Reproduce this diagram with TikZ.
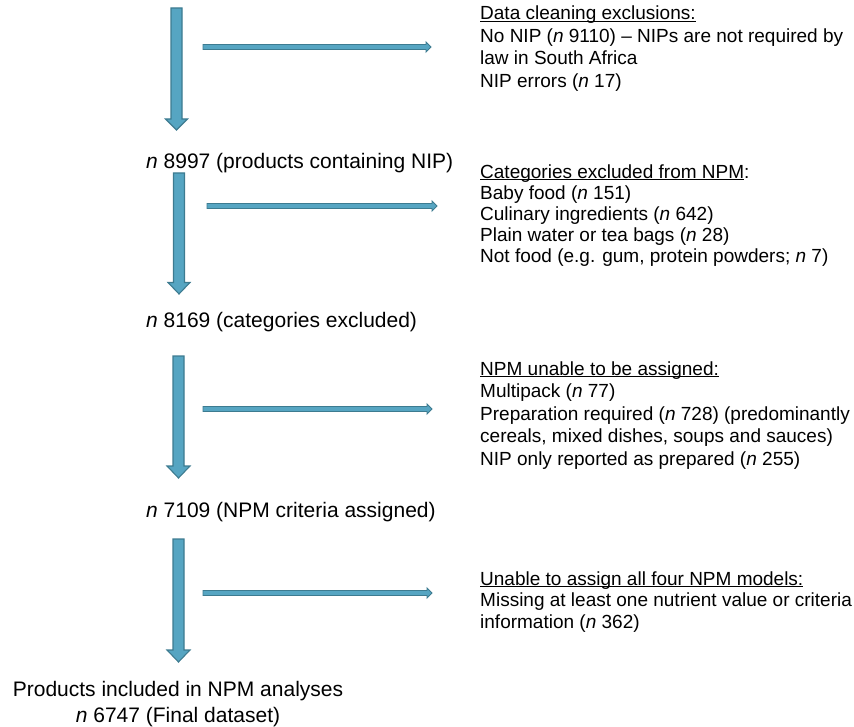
\documentclass[tikz,border=0pt]{standalone}
\usepackage{fontspec}
\setmainfont{Liberation Sans}
\definecolor{arrfill}{HTML}{56A5C2}
\definecolor{arrline}{HTML}{3D7B90}
\newcommand\myul[1]{\underline{\smash{#1}}}
\tikzset{
  blockarr/.style={fill=arrfill,draw=arrline,line width=1.1pt,line join=miter},
  lefttxt/.style={inner sep=0pt,font=\fontsize{21}{26}\selectfont},
  righttxt/.style={inner sep=0pt,anchor=north west,align=left},
}
% vertical block arrow: x, ytop, ybottom, shaft half width, head half width, head length
\newcommand\downblock[6]{%
  \draw[blockarr] ({#1-#4},#2) -- ({#1+#4},#2) -- ({#1+#4},{#3-#6}) -- ({#1+#5},{#3-#6})
    -- (#1,#3) -- ({#1-#5},{#3-#6}) -- ({#1-#4},{#3-#6}) -- cycle;}
% horizontal block arrow: y, xleft, xright, shaft half, head half, head length
\newcommand\rightblock[6]{%
  \draw[blockarr,line width=0.9pt] (#2,{#1-#4}) -- ({#3-#6},{#1-#4}) -- ({#3-#6},{#1-#5}) -- (#3,#1)
    -- ({#3-#6},{#1+#5}) -- ({#3-#6},{#1+#4}) -- (#2,{#1+#4}) -- cycle;}
\begin{document}
\begin{tikzpicture}[x=1pt,y=-1pt]
\useasboundingbox (0,0) rectangle (854,727);

% left column texts
\node[lefttxt,anchor=base west] (n8997) at (146,169) {\textit{n} 8997 (products containing NIP)};
\node[lefttxt,anchor=base west] (n8169) at (146,327) {\textit{n} 8169 (categories excluded)};
\node[lefttxt,anchor=base west] (n7109) at (146,517) {\textit{n} 7109 (NPM criteria assigned)};
\node[lefttxt,anchor=north,align=center] (final) at (178,677.8)
  {\strut Products included in NPM analyses\\ \textit{n} 6747 (Final dataset)};

% right column texts
\node[righttxt,font=\fontsize{19}{22.5}\selectfont] (ex1) at (480,3.75)
  {\strut\myul{Data cleaning exclusions:}\\
   No NIP (\textit{n} 9110) -- NIPs are not required by\\
   law in South Africa\\
   NIP errors (\textit{n} 17)};
\node[righttxt,font=\fontsize{19}{21}\selectfont] (ex2) at (480,163.3)
  {\strut\myul{Categories excluded from NPM}:\\
   Baby food (\textit{n} 151)\\
   Culinary ingredients (\textit{n} 642)\\
   Plain water or tea bags (\textit{n} 28)\\
   Not food (e.g. gum, protein powders; \textit{n} 7)};
\node[righttxt,font=\fontsize{19}{22.5}\selectfont] (ex3) at (480,359.25)
  {\strut\myul{NPM unable to be assigned:}\\
   Multipack (\textit{n} 77)\\
   Preparation required (\textit{n} 728) (predominantly\\
   cereals, mixed dishes, soups and sauces)\\
   NIP only reported as prepared (\textit{n} 255)};
\node[righttxt,font=\fontsize{19}{21.5}\selectfont] (ex4) at (480,569.95)
  {\strut\myul{Unable to assign all four NPM models:}\\
   Missing at least one nutrient value or criteria\\
   information (\textit{n} 362)};

% down arrows
\downblock{176.5}{8}{130}{5.5}{11}{11}
\downblock{179}{173}{294}{5.5}{11}{11.5}
\downblock{178.5}{356}{478}{5.5}{11.5}{12}
\downblock{178.5}{539}{662}{5.5}{11.5}{12}

% side arrows
\rightblock{47}{203}{431}{2.5}{5}{5}
\rightblock{206}{207}{437}{2.5}{5}{5}
\rightblock{409}{203}{432}{2.5}{5}{5}
\rightblock{593}{203}{432}{2.5}{5}{5}
\end{tikzpicture}
\end{document}
